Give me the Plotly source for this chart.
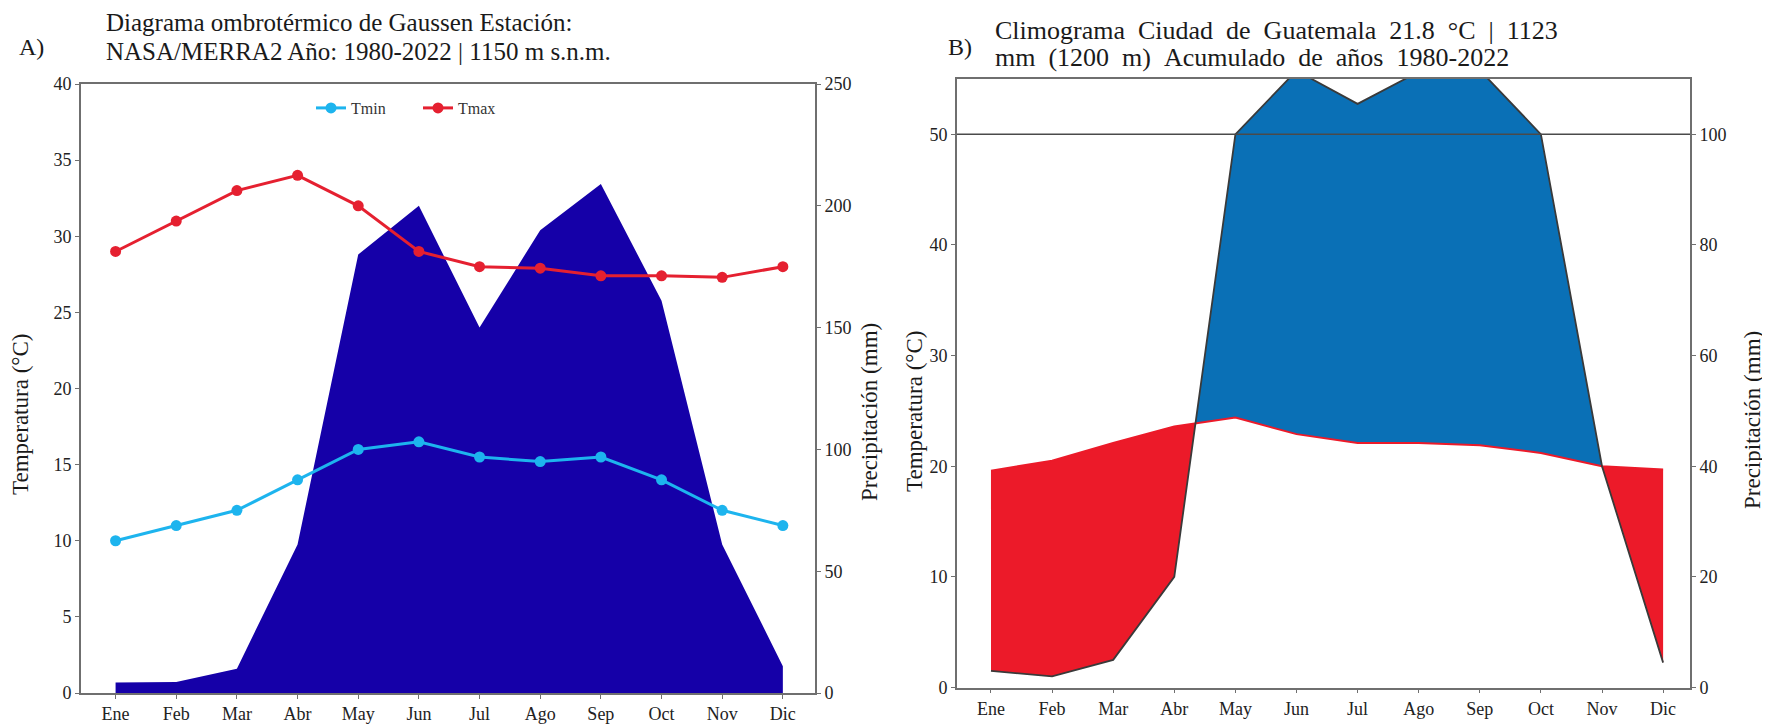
import plotly.graph_objects as go

# ---------------- data ----------------
meses = ["Ene", "Feb", "Mar", "Abr", "May", "Jun", "Jul", "Ago", "Sep", "Oct", "Nov", "Dic"]

# Panel A: Gaussen ombrothermic diagram
tmin_a = [10, 11, 12, 14, 16, 16.5, 15.5, 15.2, 15.5, 14, 12, 11]
tmax_a = [29, 31, 33, 34, 32, 29, 28, 27.9, 27.4, 27.4, 27.3, 28]
prec_a = [4.3, 4.5, 10, 61, 180, 200, 150, 190, 209, 161, 61, 11]

# Panel B: climogram Ciudad de Guatemala
temp_b = [19.6, 20.5, 22.1, 23.6, 24.4, 22.9, 22.1, 22.1, 21.9, 21.2, 20.0, 19.7]
prec_b = [3, 2, 5, 20, 100, 111.5, 105.5, 111.3, 111.6, 100, 40, 4.5]

temp_ticks_a = list(range(0, 41, 5))
prec_ticks_a = list(range(0, 251, 50))
temp_ticks_b = list(range(0, 51, 10))
prec_ticks_b = list(range(0, 101, 20))

# ---------------- styles ----------------
FONT = "Liberation Serif"
AREA_A = "#1500a8"
C_TMIN = "#1db4ee"
C_TMAX = "#e52030"
BLUE_B = "#0a70b6"
RED_B = "#ec1a29"
AX = "#6f6f6f"
W, H = 1770, 727
OFF = 8  # page body margin


def px(x):
    return (x - OFF) / W


def py(y):
    return 1 - (y - OFF) / H


xs = list(range(len(meses)))
fig = go.Figure()

# ---- Panel A ----
fig.add_trace(go.Scatter(x=xs, y=prec_a, xaxis="x", yaxis="y", mode="lines",
                         line=dict(width=0, color=AREA_A), fill="tozeroy",
                         fillcolor=AREA_A, showlegend=False, hoverinfo="skip"))
fig.add_trace(go.Scatter(x=xs, y=tmin_a, xaxis="x", yaxis="y2", mode="lines+markers",
                         name="Tmin", line=dict(color=C_TMIN, width=3),
                         marker=dict(size=11, color=C_TMIN)))
fig.add_trace(go.Scatter(x=xs, y=tmax_a, xaxis="x", yaxis="y2", mode="lines+markers",
                         name="Tmax", line=dict(color=C_TMAX, width=3),
                         marker=dict(size=11, color=C_TMAX)))

# ---- Panel B ----
ratio = 2.0  # precipitation (mm) per °C on the twin axes
pb = [v / ratio for v in prec_b]

# split the curves where they cross, so each region gets its own colour
pts = []  # (x, T, P)
for i in range(len(xs)):
    pts.append((xs[i], temp_b[i], pb[i]))
    if i < len(xs) - 1:
        d0 = pb[i] - temp_b[i]
        d1 = pb[i + 1] - temp_b[i + 1]
        if d0 * d1 < 0:
            t = d0 / (d0 - d1)
            xc = xs[i] + t
            yc = temp_b[i] + t * (temp_b[i + 1] - temp_b[i])
            pts.append((xc, yc, yc))

groups = {"red": [], "blue": []}
cur_col, cur = None, []
for j in range(len(pts) - 1):
    a, b = pts[j], pts[j + 1]
    mid = (a[2] + b[2]) / 2 - (a[1] + b[1]) / 2
    col = "blue" if mid > 0 else "red"
    if col != cur_col:
        if cur:
            groups[cur_col].append(cur)
        cur_col, cur = col, [a, b]
    else:
        cur.append(b)
if cur:
    groups[cur_col].append(cur)


def poly(runs):
    X, Y = [], []
    for run in runs:
        X += [p[0] for p in run] + [p[0] for p in reversed(run)] + [run[0][0], None]
        Y += [p[1] for p in run] + [p[2] for p in reversed(run)] + [run[0][1], None]
    return X, Y


rx, ry = poly(groups["red"])
bx, by = poly(groups["blue"])
fig.add_trace(go.Scatter(x=rx, y=ry, xaxis="x2", yaxis="y3", mode="lines",
                         line=dict(width=0, color=RED_B), fill="toself", fillcolor=RED_B,
                         showlegend=False, hoverinfo="skip"))
fig.add_trace(go.Scatter(x=bx, y=by, xaxis="x2", yaxis="y3", mode="lines",
                         line=dict(width=0, color=BLUE_B), fill="toself", fillcolor=BLUE_B,
                         showlegend=False, hoverinfo="skip"))
fig.add_trace(go.Scatter(x=xs, y=temp_b, xaxis="x2", yaxis="y3", mode="lines",
                         line=dict(color=RED_B, width=2), showlegend=False))
fig.add_trace(go.Scatter(x=xs, y=prec_b, xaxis="x2", yaxis="y4", mode="lines",
                         line=dict(color="#3a3a3a", width=1.8), showlegend=False))

fig.add_shape(type="line", xref="x2 domain", x0=0, x1=1, yref="y4", y0=100, y1=100,
              line=dict(color="#4a4a4a", width=1.6), layer="above")

# ---------------- axes ----------------
tickfont = dict(family=FONT, size=18, color="#222")
common_ax = dict(showline=True, linecolor=AX, linewidth=1.6, ticks="outside",
                 tickcolor=AX, ticklen=4, tickwidth=1.2, showgrid=False,
                 zeroline=False, tickfont=tickfont, automargin=False)

dom_ax = [px(81), px(815)]
dom_ay = [py(693), py(84)]
dom_bx = [px(957), px(1690)]
dom_by = [py(687.5), py(79)]

fig.update_layout(
    xaxis=dict(domain=dom_ax, anchor="y", range=[-0.57, 11.53], tickvals=xs,
               ticktext=meses, mirror=True, **common_ax),
    yaxis=dict(domain=dom_ay, anchor="x", side="right", range=[0, 250],
               tickvals=prec_ticks_a, **common_ax),
    yaxis2=dict(overlaying="y", anchor="x", side="left", range=[0, 40],
                tickvals=temp_ticks_a, **common_ax),
    xaxis2=dict(domain=dom_bx, anchor="y3", range=[-0.556, 11.44], tickvals=xs,
                ticktext=meses, mirror=True, **common_ax),
    yaxis3=dict(domain=dom_by, anchor="x2", side="left", range=[0, 55],
                tickvals=temp_ticks_b, **common_ax),
    yaxis4=dict(overlaying="y3", anchor="x2", side="right", range=[0, 110],
                tickvals=prec_ticks_b, **common_ax),
)

# ---------------- texts ----------------
ann = []


def add_text(text, x, y, size, xanchor="left", yanchor="middle", angle=0):
    ann.append(dict(text=text, x=px(x), y=py(y), xref="paper", yref="paper",
                    xanchor=xanchor, yanchor=yanchor, showarrow=False, textangle=angle,
                    font=dict(family=FONT, size=size, color="#1a1a1a"), align="left"))


SP = " \u00a0"  # wider word gaps as in the reference title B
add_text("A)", 17, 47, 24)
add_text("Diagrama ombrotérmico de Gaussen Estación:", 104, 23, 25)
add_text("NASA/MERRA2 Año: 1980-2022 | 1150 m s.n.m.", 104, 51, 25)
add_text("B)", 946, 47, 24)
add_text(SP.join("Climograma Ciudad de Guatemala 21.8 °C | 1123".split(" ")), 993, 31, 26)
add_text(SP.join("mm (1200 m) Acumulado de años 1980-2022".split(" ")), 993, 57, 26)
add_text("Temperatura (°C)", 20, 415, 23, xanchor="center", angle=-90)
add_text("Precipitación (mm)", 869, 412, 23, xanchor="center", angle=-90)
add_text("Temperatura (°C)", 914, 412, 23, xanchor="center", angle=-90)
add_text("Precipitación (mm)", 1752, 420, 23, xanchor="center", angle=-90)

fig.update_layout(
    width=W, height=H, margin=dict(l=0, r=0, t=0, b=0, autoexpand=False),
    paper_bgcolor="white", plot_bgcolor="white",
    annotations=ann,
    showlegend=True,
    legend=dict(orientation="h", x=px(418), y=py(108), xanchor="center", yanchor="middle",
                font=dict(family=FONT, size=16, color="#333"), bgcolor="rgba(0,0,0,0)",
                itemwidth=30, entrywidth=62, entrywidthmode="pixels"),
    font=dict(family=FONT),
)

fig.write_html("out.html")
